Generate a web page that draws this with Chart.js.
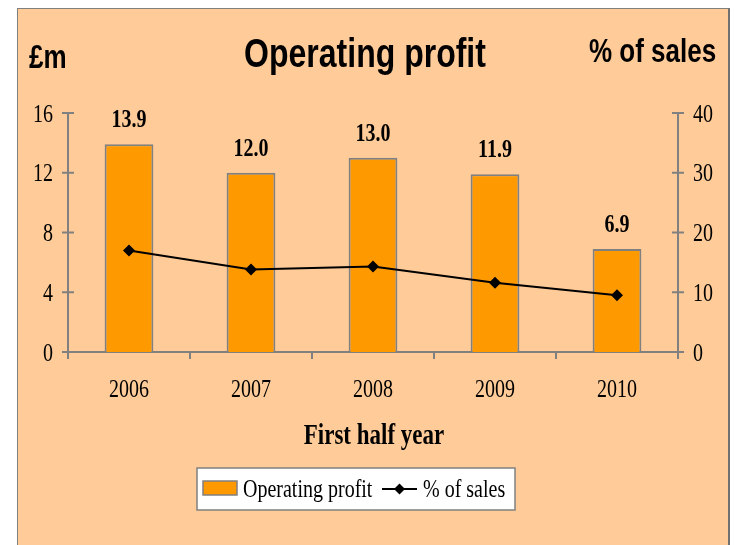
<!DOCTYPE html>
<html>
<head>
<meta charset="utf-8">
<script src="https://cdn.jsdelivr.net/npm/chart.js@4.4.1/dist/chart.umd.min.js"></script>
<style>
  html, body { margin:0; padding:0; background:#ffffff; width:734px; height:545px; overflow:hidden; }
  #panel { position:absolute; left:17px; top:8px; width:710px; height:560px; background:#FFCC99; border:1px solid #808080; border-right:2px solid #707070; }
  #wrap { position:absolute; left:0; top:0; width:734px; height:545px; }
</style>
</head>
<body>
<div id="panel"></div>
<div id="wrap"><canvas id="c" width="734" height="545"></canvas></div>
<script>
const years = ['2006', '2007', '2008', '2009', '2010'];
const operatingProfit = [13.9, 12.0, 13.0, 11.9, 6.9];
const pctOfSales = [17.0, 13.8, 14.3, 11.6, 9.5];
const leftTicks = [0, 4, 8, 12, 16];
const rightTicks = [0, 10, 20, 30, 40];

const SERIF = '"Liberation Serif", "Times New Roman", serif';
const SANS = '"Liberation Sans", Arial, sans-serif';
const AXIS = '#808080';
const SY = 1.27; // vertical stretch of the reference's lettering

function txt(ctx, s, x, y, font, align) {
  ctx.save();
  ctx.font = font;
  ctx.textAlign = align;
  ctx.textBaseline = 'alphabetic';
  ctx.translate(x, y);
  ctx.scale(1, SY);
  ctx.fillText(s, 0, 0);
  ctx.restore();
}

const decor = {
  id: 'decor',
  beforeDatasetsDraw(chart) {
    const ctx = chart.ctx;
    const ca = chart.chartArea;
    const y = chart.scales.y, y1 = chart.scales.y1, x = chart.scales.x;
    ctx.save();
    ctx.strokeStyle = AXIS;
    ctx.lineWidth = 2;
    ctx.beginPath();
    ctx.moveTo(ca.left, ca.top); ctx.lineTo(ca.left, ca.bottom + 7);
    ctx.moveTo(ca.right, ca.top); ctx.lineTo(ca.right, ca.bottom + 7);
    ctx.moveTo(ca.left - 6, ca.bottom); ctx.lineTo(ca.right + 6, ca.bottom);
    leftTicks.forEach(v => { const py = y.getPixelForValue(v); ctx.moveTo(ca.left - 6, py); ctx.lineTo(ca.left + 6, py); });
    rightTicks.forEach(v => { const py = y1.getPixelForValue(v); ctx.moveTo(ca.right - 6, py); ctx.lineTo(ca.right + 6, py); });
    const n = years.length;
    for (let i = 0; i <= n; i++) {
      const px = ca.left + (ca.right - ca.left) * i / n;
      ctx.moveTo(px, ca.bottom); ctx.lineTo(px, ca.bottom + 7);
    }
    ctx.stroke();
    ctx.restore();

    // tick labels, positioned by the library's scales
    ctx.save();
    ctx.fillStyle = '#000';
    const tf = '20px ' + SERIF;
    leftTicks.forEach(v => txt(ctx, String(v), ca.left - 15, y.getPixelForValue(v) + 8.5, tf, 'right'));
    rightTicks.forEach(v => txt(ctx, String(v), ca.right + 15, y1.getPixelForValue(v) + 8.5, tf, 'left'));
    years.forEach((lab, i) => txt(ctx, lab, x.getPixelForValue(i), ca.bottom + 45, tf, 'center'));
    ctx.restore();
  },
  afterDraw(chart) {
    const ctx = chart.ctx;
    ctx.save();
    ctx.fillStyle = '#000';
    txt(ctx, 'Operating profit', 365, 67, 'bold 32px ' + SANS, 'center');
    txt(ctx, '£m', 29, 68, 'bold 26px ' + SANS, 'left');
    txt(ctx, '% of sales', 589, 62, 'bold 26px ' + SANS, 'left');
    txt(ctx, 'First half year', 374, 444, 'bold 23px ' + SERIF, 'center');
    const meta = chart.getDatasetMeta(1);
    meta.data.forEach((bar, i) => {
      txt(ctx, operatingProfit[i].toFixed(1), bar.x, bar.y - 17, 'bold 20px ' + SERIF, 'center');
    });
    // legend
    const lx = 197, ly = 468, lw = 318, lh = 42;
    ctx.fillStyle = '#ffffff';
    ctx.fillRect(lx, ly, lw, lh);
    ctx.strokeStyle = AXIS;
    ctx.lineWidth = 1.5;
    ctx.strokeRect(lx, ly, lw, lh);
    ctx.fillStyle = '#FF9900';
    ctx.fillRect(203, 481, 34, 14);
    ctx.strokeRect(203, 481, 34, 14);
    ctx.fillStyle = '#000';
    txt(ctx, 'Operating profit', 243, 497, '20px ' + SERIF, 'left');
    ctx.strokeStyle = '#000';
    ctx.lineWidth = 2;
    ctx.beginPath();
    ctx.moveTo(382, 489); ctx.lineTo(417, 489);
    ctx.stroke();
    ctx.beginPath();
    ctx.moveTo(399.5, 483.5); ctx.lineTo(405, 489); ctx.lineTo(399.5, 494.5); ctx.lineTo(394, 489); ctx.closePath();
    ctx.fill();
    txt(ctx, '% of sales', 423, 497, '20px ' + SERIF, 'left');
    ctx.restore();
  }
};

new Chart(document.getElementById('c'), {
  type: 'bar',
  data: {
    labels: years,
    datasets: [
      {
        type: 'line', label: '% of sales', data: pctOfSales, yAxisID: 'y1',
        borderColor: '#000', borderWidth: 2, pointStyle: 'rectRot', pointRadius: 6,
        pointBackgroundColor: '#000', pointBorderColor: '#000', pointBorderWidth: 0,
        tension: 0, order: 0
      },
      {
        type: 'bar', label: 'Operating profit', data: operatingProfit, yAxisID: 'y',
        backgroundColor: '#FF9900', borderColor: AXIS, borderWidth: 2,
        categoryPercentage: 1, barPercentage: 0.4, order: 1
      }
    ]
  },
  options: {
    responsive: false,
    animation: false,
    devicePixelRatio: 1,
    layout: { padding: { top: 113, left: 0, right: 0, bottom: 0 } },
    plugins: { legend: { display: false }, tooltip: { enabled: false }, title: { display: false } },
    scales: {
      x: {
        grid: { display: false, drawTicks: false }, border: { display: false },
        ticks: { display: false },
        afterFit(s) { s.height = 193; }
      },
      y: {
        position: 'left', min: 0, max: 16,
        grid: { display: false, drawTicks: false }, border: { display: false },
        ticks: { stepSize: 4, display: false },
        afterFit(s) { s.width = 68; }
      },
      y1: {
        position: 'right', min: 0, max: 40,
        grid: { display: false, drawTicks: false }, border: { display: false },
        ticks: { stepSize: 10, display: false },
        afterFit(s) { s.width = 56; }
      }
    }
  },
  plugins: [decor]
});
</script>
</body>
</html>
